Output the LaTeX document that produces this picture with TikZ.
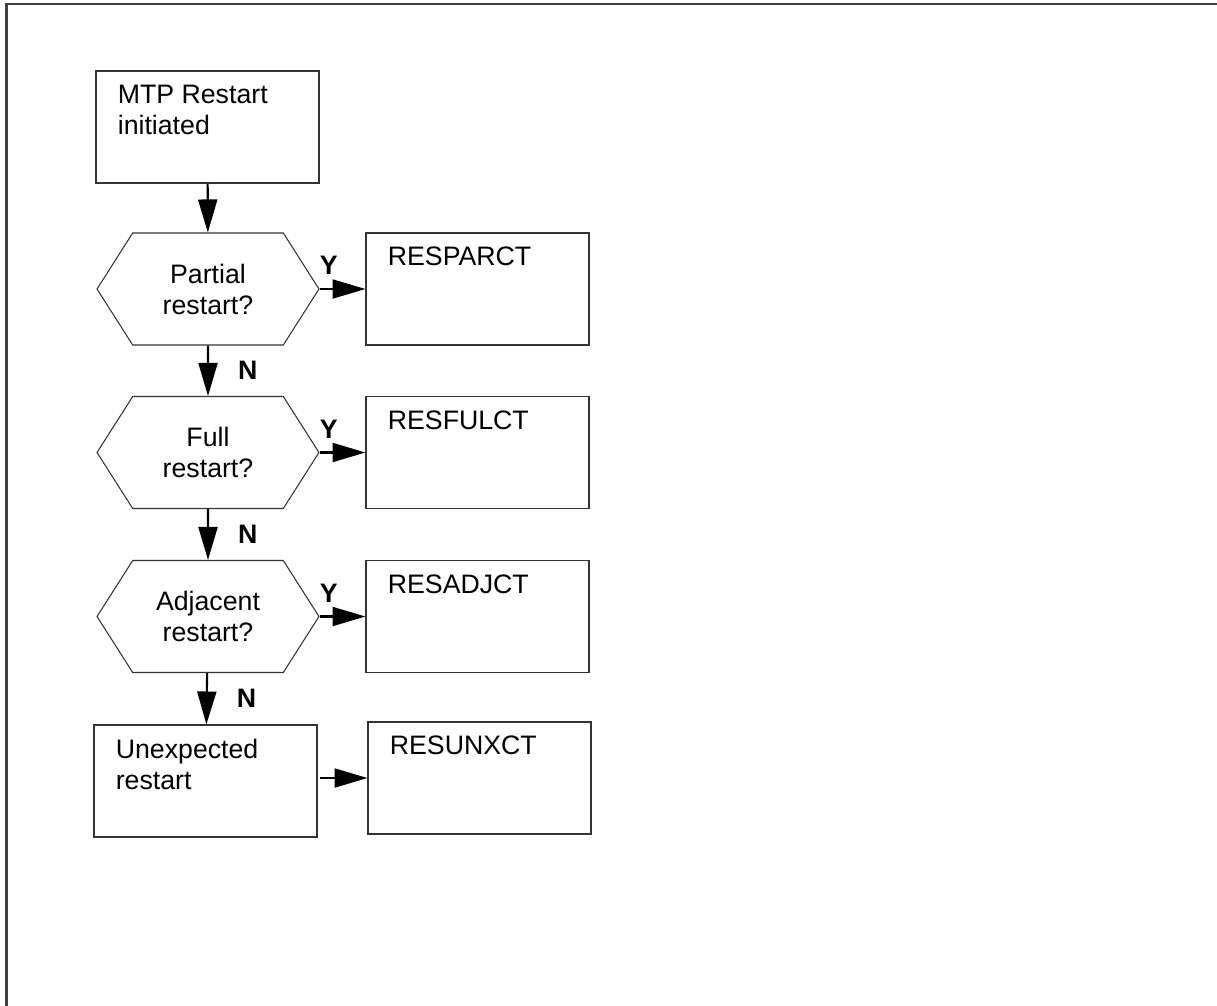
\documentclass[tikz,border=0pt]{standalone}
\usepackage{fontspec}
\setmainfont{Liberation Sans}
\usetikzlibrary{arrows.meta}
\usetikzlibrary{shapes.symbols}

\begin{document}
\begin{tikzpicture}[x=0.02cm, y=-0.02cm, >={Triangle[length=0.66cm,width=0.38cm]},
    every node/.style={font=\fontsize{15.2}{17.6}\selectfont}]
  \tikzset{caixa/.style={draw=black!80, line width=0.6pt, minimum width=4.46cm,
      minimum height=2.24cm, inner sep=0pt},
    hexa/.style={draw=black!80, line width=0.6pt, shape=signal, signal to=west and east,
      signal pointer angle=115, minimum width=4.44cm, minimum height=2.24cm,
      align=center, inner sep=0pt},
    texto/.style={anchor=north west, align=left, inner sep=0pt, xshift=0.44cm, yshift=-0.29cm},
    seta/.style={->, line width=1.2pt},
    resp/.style={font=\fontsize{15.2}{17.6}\selectfont\bfseries, inner sep=0pt}}
  \useasboundingbox (0,0) rectangle (1217,1005);
  \draw[black!75, line width=1.3pt] (6.5,1012) -- (6.5,4) -- (1222,4);
  % coluna da esquerda
  \node[caixa] (inicio) at (207.5,127) {};
  \node[texto] (inicio-t) at (inicio.north west) {MTP Restart\\initiated};
  \node[hexa] (parcial) at (208,289) {Partial\\restart?};
  \node[hexa] (total) at (208,452.5) {Full\\restart?};
  \node[hexa] (adjac) at (208,616.5) {Adjacent\\restart?};
  \node[caixa] (inesp) at (205.5,781) {};
  \node[texto] (inesp-t) at (inesp.north west) {Unexpected\\restart};
  % coluna da direita
  \node[caixa] (resparct) at (477.5,289) {};
  \node[texto] (resparct-t) at (resparct.north west) {RESPARCT};
  \node[caixa] (resfulct) at (477.5,452.5) {};
  \node[texto] (resfulct-t) at (resfulct.north west) {RESFULCT};
  \node[caixa] (resadjct) at (477.5,616.5) {};
  \node[texto] (resadjct-t) at (resadjct.north west) {RESADJCT};
  \node[caixa] (resunxct) at (479.5,778) {};
  \node[texto] (resunxct-t) at (resunxct.north west) {RESUNXCT};
  % setas
  \draw[seta] (inicio) -- (parcial);
  \draw[seta] (parcial) -- node[resp, right=0.58cm] {N} (total);
  \draw[seta] (total) -- node[resp, right=0.58cm] {N} (adjac);
  \draw[seta] (adjac) -- node[resp, right=0.58cm] {N} (inesp);
  \draw[seta] (parcial.east) -- node[resp, pos=0.2, above=0.26cm] {Y} (resparct.west);
  \draw[seta] (total.east) -- node[resp, pos=0.2, above=0.26cm] {Y} (resfulct.west);
  \draw[seta] (adjac.east) -- node[resp, pos=0.2, above=0.26cm] {Y} (resadjct.west);
  \draw[seta] (inesp.east |- resunxct.west) ++(2,0) coordinate (sai) (sai) -- (resunxct.west);
\end{tikzpicture}
\end{document}
